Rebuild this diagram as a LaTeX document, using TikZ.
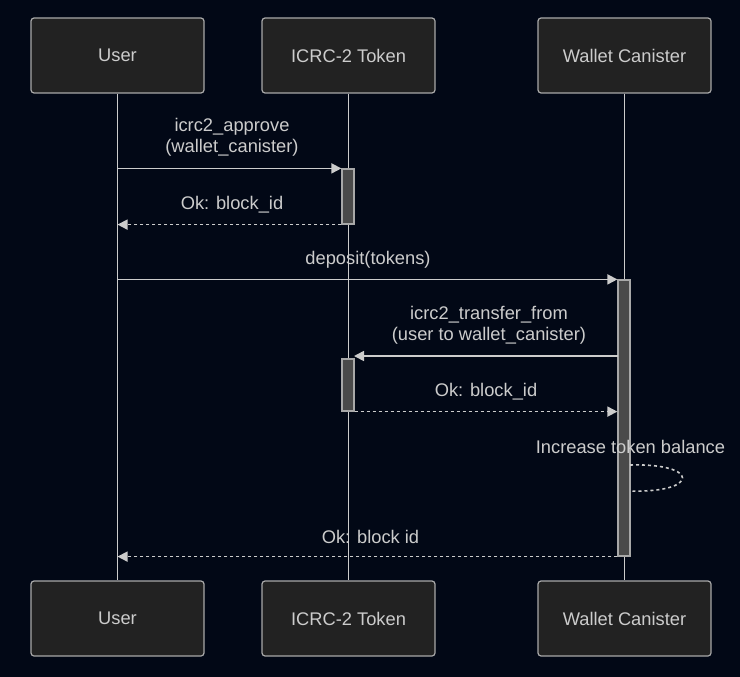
\documentclass[tikz,border=0pt]{standalone}
\usepackage{fontspec}
\setmainfont{Liberation Sans}
\usetikzlibrary{arrows.meta}
\definecolor{bg}{HTML}{020816}
\definecolor{boxfill}{HTML}{222222}
\definecolor{boxline}{HTML}{A8A8A8}
\definecolor{fg}{HTML}{CCCCCC}
\definecolor{actfill}{HTML}{4A4A4A}
\tikzset{
  actor/.style={draw=boxline, fill=boxfill, line width=1.2pt, rounded corners=3pt,
    minimum width=173pt, minimum height=75pt, text=fg, font=\fontsize{18.3}{21}\selectfont, inner sep=0pt},
  lifeline/.style={draw=fg, line width=1.5pt},
  act/.style={draw=boxline, fill=actfill, line width=1.2pt, minimum width=12pt, inner sep=0pt},
  msg/.style={draw=fg, line width=1.6pt, -{Triangle[length=10pt,width=10pt]}},
  reply/.style={msg, dash pattern=on 3pt off 3pt},
  lbl/.style={text=fg, font=\fontsize{18.3}{21}\selectfont, align=center, inner sep=0pt},
}
\begin{document}
\begin{tikzpicture}[x=1pt,y=-1pt]
\fill[bg] (0,0) rectangle (740,677);
\useasboundingbox (0,0) rectangle (740,677);
% actors
\node[actor] (u)  at (117.5,55.5) {User};
\node[actor] (t)  at (348.5,55.5) {ICRC-2 Token};
\node[actor] (w)  at (624.5,55.5) {Wallet Canister};
\node[actor] (ub) at (117.5,618.5) {User};
\node[actor] (tb) at (348.5,618.5) {ICRC-2 Token};
\node[actor] (wb) at (624.5,618.5) {Wallet Canister};
% lifelines
\draw[lifeline] (u.south) -- (ub.north);
\draw[lifeline] (t.south) -- (tb.north);
\draw[lifeline] (w.south) -- (wb.north);
% activations
\node[act, minimum height=55pt]  (a1) at (348,196.5) {};
\node[act, minimum height=52pt]  (a2) at (348,385) {};
\node[act, minimum height=276pt] (a3) at (624,418) {};
% coordinates on lifelines
\coordinate (m1u) at (u |- a1.north);
\coordinate (m2u) at (u |- a1.south);
\coordinate (m3u) at (u |- a3.north);
\coordinate (m4t) at (354,356);
\coordinate (m4w) at (618,356);
\coordinate (m7u) at (u |- a3.south);
\coordinate (s1) at (630,465);
\coordinate (s2) at (630,491);
% messages
\draw[msg] (m1u) -- (a1.north west);
\node[lbl] (l1) at (232,137.5) {icrc2\_approve\\(wallet\_canister)};
\draw[reply] (a1.south west) -- (m2u);
\node[lbl] (l2) at (232,204.5) {Ok: block\_id};
\draw[msg] (m3u) -- (a3.north west);
\node[lbl] (l3) at (368,259.5) {deposit(tokens)};
\draw[msg] (m4w) -- (m4t);
\node[lbl] (l4) at (489,325.5) {icrc2\_transfer\_from\\(user to wallet\_canister)};
\draw[reply] (a2.south east) -- (a3.west |- a2.south);
\node[lbl] (l5) at (486,391.5) {Ok: block\_id};
\draw[draw=fg, line width=1.6pt, dash pattern=on 3pt off 3pt] (s1) .. controls (700,463) and (700,493) .. (s2);
\node[lbl] (l6) at (630.5,447) {Increase token balance};
\draw[reply] (a3.south west) -- (m7u);
\node[lbl] (l7) at (370.5,537) {Ok: block id};
\end{tikzpicture}
\end{document}
